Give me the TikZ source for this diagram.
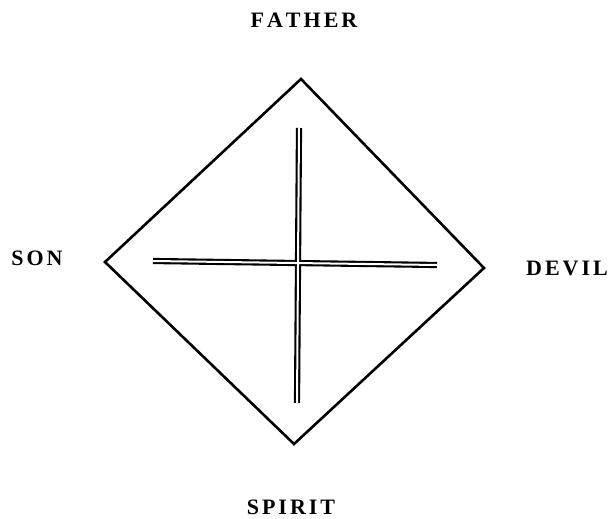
\documentclass[tikz,border=0pt]{standalone}
\usepackage{fontspec}
\setmainfont{Liberation Serif}
\newcommand{\ks}{\kern3bp}
\tikzset{
  lab/.style={font=\fontsize{22bp}{22bp}\selectfont\bfseries, inner sep=0pt, anchor=center},
  edge/.style={line width=2.6bp, line join=miter},
  barout/.style={line width=6.2bp, black},
  barin/.style={line width=2bp, white}
}
\begin{document}
\begin{tikzpicture}[x=1bp,y=-1bp]
\useasboundingbox (0,0) rectangle (610,519);
\fill[white] (0,0) rectangle (610,519);
% diamond vertices
\coordinate (T) at (301,79);
\coordinate (L) at (105,262);
\coordinate (B) at (294,444);
\coordinate (R) at (484,268);
\draw[edge] (T) -- (R) -- (B) -- (L) -- cycle;
% cross
\coordinate (vt) at (299,128);
\coordinate (vb) at (297,403);
\coordinate (hl) at (153,261);
\coordinate (hr) at (437,265);
\draw[barout] (vt) -- (vb);
\draw[barout] (hl) -- (hr);
\draw[barin] (vt) -- (vb);
\draw[barin] (hl) -- (hr);
% labels
\node[lab] (father) at (304,20) {F\ks A\ks T\ks H\ks E\ks R};
\node[lab] (son) at (37,258) {S\ks O\ks N};
\node[lab] (devil) at (567,268) {D\ks E\ks V\ks I\ks L};
\node[lab] (spirit) at (291,507) {S\ks P\ks I\ks R\ks I\ks T};
\end{tikzpicture}
\end{document}
